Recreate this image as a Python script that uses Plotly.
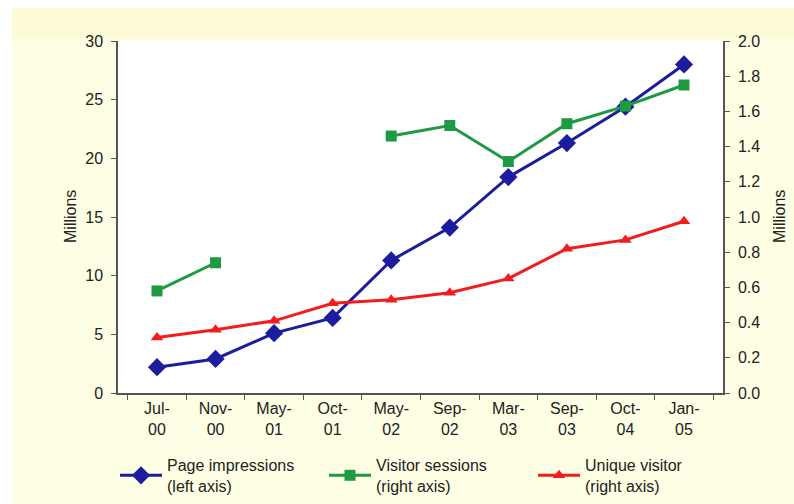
import plotly.graph_objects as go

# Survey dates (category axis)
dates = ["Jul-<br>00", "Nov-<br>00", "May-<br>01", "Oct-<br>01", "May-<br>02",
         "Sep-<br>02", "Mar-<br>03", "Sep-<br>03", "Oct-<br>04", "Jan-<br>05"]

# Millions, left axis
page_impressions = [2.2, 2.9, 5.1, 6.4, 11.3, 14.1, 18.4, 21.3, 24.4, 28.0]
# Millions, right axis (no survey for May-01 / Oct-01)
visitor_sessions = [0.58, 0.74, None, None, 1.46, 1.52, 1.315, 1.53, 1.63, 1.75]
unique_visitors = [0.315, 0.36, 0.41, 0.51, 0.53, 0.57, 0.65, 0.82, 0.87, 0.976]

left_ticks = [0, 5, 10, 15, 20, 25, 30]
right_ticks = [0.0, 0.2, 0.4, 0.6, 0.8, 1.0, 1.2, 1.4, 1.6, 1.8, 2.0]

BLUE = "#1c1c9e"
GREEN = "#1e9a40"
RED = "#f21c1c"
TEXT = "#222222"
AXIS = "#555555"
CREAM = "#fefee4"
CREAM_TOP = "#fdfad6"

# plot area in pixels
L, R, T, B = 118, 71, 41, 111
W, H = 794, 504
PW, PH = W - L - R, H - T - B

def px_x(p):
    return (p - L) / PW

def px_y(p):
    return (H - B - p) / PH

fig = go.Figure()

fig.add_trace(go.Scatter(
    x=dates, y=page_impressions, name="Page impressions<br>(left axis)",
    mode="lines+markers", line=dict(color=BLUE, width=3),
    marker=dict(symbol="diamond", size=14, color=BLUE),
    yaxis="y",
))
fig.add_trace(go.Scatter(
    x=dates, y=visitor_sessions, name="Visitor sessions<br>(right axis)",
    mode="lines+markers", line=dict(color=GREEN, width=3),
    marker=dict(symbol="square", size=11, color=GREEN),
    connectgaps=False, yaxis="y2",
))
fig.add_trace(go.Scatter(
    x=dates, y=unique_visitors, name="Unique visitor<br>(right axis)",
    mode="lines+markers", line=dict(color=RED, width=3),
    marker=dict(symbol="triangle-up", size=11, color=RED),
    yaxis="y2",
))

font = dict(family="Liberation Sans, Arial, sans-serif", size=16, color=TEXT)

fig.update_layout(
    width=W, height=H,
    margin=dict(l=L, r=R, t=T, b=B, autoexpand=False),
    paper_bgcolor=CREAM,
    plot_bgcolor="white",
    font=font,
    showlegend=True,
    legend=dict(
        orientation="h", x=px_x(115), y=px_y(448), xanchor="left", yanchor="top",
        bgcolor="rgba(0,0,0,0)", font=font,
        entrywidth=152, entrywidthmode="pixels", itemwidth=42,
        traceorder="normal",
    ),
    xaxis=dict(
        type="category", tickson="boundaries", ticks="outside", ticklen=5,
        tickcolor=AXIS, showline=True, linecolor=AXIS, linewidth=1.5,
        showgrid=False, zeroline=False, tickfont=font, automargin=False,
    ),
    yaxis=dict(
        range=[0, 30], tickvals=left_ticks, ticks="outside", ticklen=5,
        tickcolor=AXIS, showline=True, linecolor=AXIS, linewidth=1.5,
        showgrid=False, zeroline=False, tickfont=font, automargin=False,
        ticklabelstandoff=5,
    ),
    yaxis2=dict(
        range=[0, 2.0], tickvals=right_ticks, tickformat=".1f",
        overlaying="y", side="right", ticks="outside", ticklen=5,
        tickcolor=AXIS, showline=True, linecolor=AXIS, linewidth=1.5,
        showgrid=False, zeroline=False, tickfont=font, automargin=False,
        ticklabelstandoff=5,
    ),
    shapes=[
        # white outer border on top and left
        dict(type="rect", xref="paper", yref="paper", layer="below",
             x0=px_x(0), x1=px_x(W), y0=px_y(0), y1=px_y(8),
             fillcolor="white", line=dict(width=0)),
        dict(type="rect", xref="paper", yref="paper", layer="below",
             x0=px_x(0), x1=px_x(12), y0=px_y(0), y1=px_y(H),
             fillcolor="white", line=dict(width=0)),
        # slightly deeper band along the top of the panel
        dict(type="rect", xref="paper", yref="paper", layer="below",
             x0=px_x(12), x1=px_x(W), y0=px_y(8), y1=px_y(38),
             fillcolor=CREAM_TOP, line=dict(width=0)),
    ],
    annotations=[
        dict(text="Millions", textangle=-90, xref="paper", yref="paper",
             x=px_x(70), y=px_y(217), xanchor="center", yanchor="middle",
             showarrow=False, font=font),
        dict(text="Millions", textangle=-90, xref="paper", yref="paper",
             x=px_x(779), y=px_y(217), xanchor="center", yanchor="middle",
             showarrow=False, font=font),
    ],
)

fig.write_html("out.html")
